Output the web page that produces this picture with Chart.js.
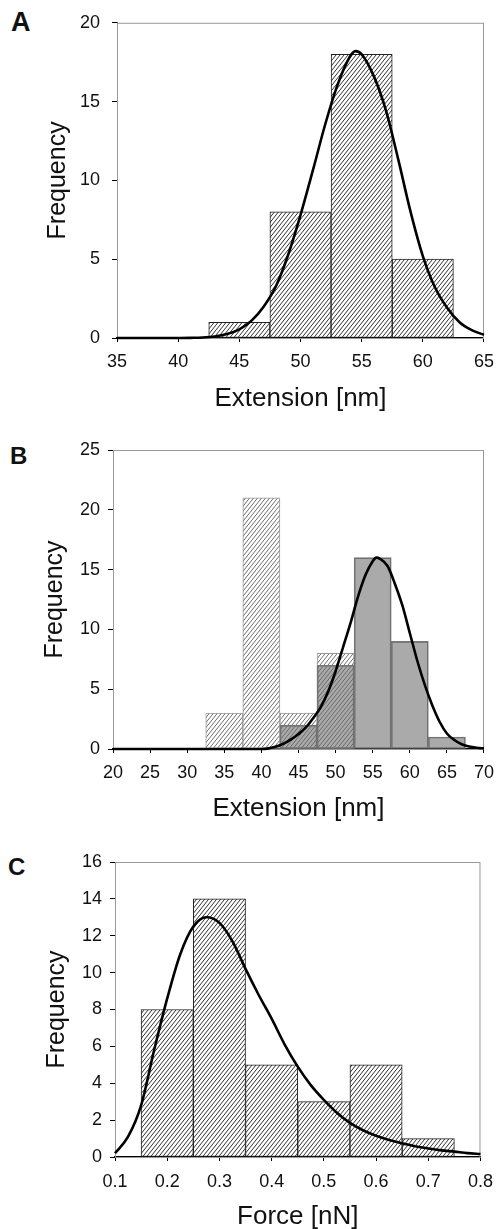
<!DOCTYPE html>
<html>
<head>
<meta charset="utf-8">
<script src="https://cdn.jsdelivr.net/npm/chart.js@4/dist/chart.umd.min.js"></script>
<style>
  body { margin: 0; background: #fff; overflow: hidden; }
  canvas { position: absolute; left: 0; }
  .tag { position: absolute; font-family: "Liberation Sans", Arial, sans-serif; font-weight: bold; line-height: 1; color: #111; }
</style>
</head>
<body>
<div class="tag" style="left:11px; top:9px; font-size:27px;">A</div>
<div class="tag" style="left:10px; top:444px; font-size:24px;">B</div>
<div class="tag" style="left:8px; top:855px; font-size:24px;">C</div>
<canvas id="chartA" width="503" height="420" style="top:0px"></canvas>
<canvas id="chartB" width="503" height="410" style="top:420px"></canvas>
<canvas id="chartC" width="503" height="399" style="top:830px"></canvas>
<script>
// A - extension histogram with gaussian fit
var binsA = [45, 50, 55, 60];
var countsA = [1, 8, 18, 5];
var fitXA = [35, 36, 37, 38, 39, 40, 41, 42, 43, 44, 45, 46, 47, 48, 49, 50, 51, 52, 53, 54, 54.5, 55, 56, 57, 58, 59, 60, 61, 62, 63, 64, 65];
var fitYA = [0, 0, 0, 0, 0, 0, 0.01, 0.03, 0.1, 0.25, 0.55, 1.1, 2.0, 3.3, 5.3, 7.8, 10.6, 13.5, 16.0, 17.8, 18.2, 18.0, 16.6, 14.4, 11.3, 8.0, 5.2, 3.2, 1.9, 1.0, 0.5, 0.2];

// B - two populations, hatched and grey
var binsB1 = [35, 40, 45, 50];
var countsB1 = [3, 21, 3, 8];
var binsB2 = [45, 50, 55, 60, 65];
var countsB2 = [2, 7, 16, 9, 1];
var fitXB = [20, 25, 30, 35, 40, 41, 42, 43, 44, 45, 46, 47, 48, 49, 50, 51, 52, 53, 54, 55, 55.5, 56, 57, 58, 59, 60, 61, 62, 63, 64, 65, 66, 67, 68, 69, 70];
var fitYB = [0, 0, 0, 0, 0, 0.05, 0.2, 0.45, 0.8, 1.25, 1.8, 2.6, 3.5, 4.8, 6.5, 8.5, 10.5, 12.7, 14.5, 15.7, 16.0, 15.9, 15.3, 13.8, 12.0, 9.7, 7.4, 5.4, 3.7, 2.3, 1.3, 0.75, 0.4, 0.2, 0.1, 0.05];

// C - force histogram
var binsC = [0.2, 0.3, 0.4, 0.5, 0.6, 0.7];
var countsC = [8, 14, 5, 3, 5, 1];
var fitXC = [0.1, 0.125, 0.15, 0.175, 0.2, 0.225, 0.25, 0.275, 0.3, 0.325, 0.35, 0.375, 0.4, 0.425, 0.45, 0.475, 0.5, 0.525, 0.55, 0.575, 0.6, 0.625, 0.65, 0.675, 0.7, 0.725, 0.75, 0.775, 0.8];
var fitYC = [0.2, 1.1, 2.8, 5.8, 8.6, 11.0, 12.5, 13.0, 12.7, 11.7, 10.2, 8.8, 7.5, 6.1, 4.9, 3.9, 3.1, 2.4, 1.85, 1.45, 1.15, 0.92, 0.74, 0.58, 0.46, 0.36, 0.29, 0.21, 0.16];

var FONT = '"Liberation Sans", Arial, sans-serif';

function pts(xs, ys) {
	return xs.map(function (x, i) { return { x: x, y: ys[i] }; });
}

function hatch(ctx, color) {
	var w = 4, h = 5;
	var c = document.createElement('canvas');
	c.width = w; c.height = h;
	var g = c.getContext('2d');
	g.fillStyle = '#fff';
	g.fillRect(0, 0, w, h);
	g.strokeStyle = color;
	g.lineWidth = 1;
	g.beginPath();
	for (var k = -1; k <= 1; k++) {
		g.moveTo(k * w, h);
		g.lineTo(k * w + w, 0);
	}
	g.stroke();
	return ctx.createPattern(c, 'repeat');
}

// grey box round the plot area
var framePlugin = {
	id: 'frame',
	beforeDatasetsDraw: function (chart) {
		var a = chart.chartArea, ctx = chart.ctx;
		ctx.save();
		ctx.strokeStyle = '#9a9a9a';
		ctx.lineWidth = 1;
		ctx.strokeRect(a.left + 0.5, a.top + 0.5, a.width - 1, a.height);
		ctx.restore();
	}
};

function fitLine(xs, ys) {
	return {
		type: 'line',
		data: pts(xs, ys),
		borderColor: '#000',
		borderWidth: 2.6,
		pointRadius: 0,
		cubicInterpolationMode: 'monotone',
		clip: 4,
		order: 0
	};
}

function bars(xs, ys, fill, edge, order) {
	return {
		type: 'bar',
		data: pts(xs, ys),
		backgroundColor: fill,
		borderColor: edge,
		borderWidth: 1,
		borderSkipped: false,
		barPercentage: 1,
		categoryPercentage: 1,
		grouped: false,
		order: order
	};
}

function makeChart(id, p) {
	var ctx = document.getElementById(id).getContext('2d');
	return new Chart(ctx, {
		type: 'bar',
		data: { datasets: p.datasets(ctx) },
		options: {
			responsive: false,
			animation: false,
			layout: { padding: { top: p.padTop, right: p.padRight, left: 0, bottom: 0 } },
			plugins: { legend: { display: false }, tooltip: { enabled: false } },
			scales: {
				x: {
					type: 'linear',
					offset: false,
					min: p.xMin,
					max: p.xMax,
					afterFit: function (s) { s.height = p.xHeight; },
					grid: { offset: false, drawOnChartArea: false, tickLength: 4, color: '#000' },
					border: { color: '#000', width: 1.5 },
					ticks: {
						stepSize: p.xStep,
						autoSkip: false,
						maxRotation: 0,
						padding: p.xTickPad,
						color: '#111',
						font: { family: FONT, size: 18 },
						callback: function (v) { return p.xDec ? v.toFixed(p.xDec) : v; }
					},
					title: {
						display: true,
						text: p.xTitle,
						color: '#111',
						font: { family: FONT, size: 26 },
						padding: { top: 0, bottom: p.xTitlePad }
					}
				},
				y: {
					min: 0,
					max: p.yMax,
					afterFit: function (s) { s.width = p.yWidth; },
					grid: { drawOnChartArea: false, tickLength: 5, color: '#000' },
					border: { color: '#444', width: 1 },
					ticks: {
						stepSize: p.yStep,
						padding: p.yTickPad,
						color: '#111',
						font: { family: FONT, size: 18 }
					},
					title: {
						display: true,
						text: 'Frequency',
						color: '#111',
						font: { family: FONT, size: 25 },
						padding: { top: p.yTitlePad, bottom: 0 }
					}
				}
			}
		},
		plugins: [framePlugin]
	});
}

makeChart('chartA', {
	xMin: 35, xMax: 65, xStep: 5, yMax: 20, yStep: 5,
	xTitle: 'Extension [nm]',
	padTop: 18, padRight: 12, xHeight: 82, yWidth: 117,
	xTickPad: 9, xTitlePad: 6, yTickPad: 12, yTitlePad: 43,
	datasets: function (ctx) {
		return [fitLine(fitXA, fitYA), bars(binsA, countsA, hatch(ctx, '#333'), '#222', 1)];
	}
});

makeChart('chartB', {
	xMin: 20, xMax: 70, xStep: 5, yMax: 25, yStep: 5,
	xTitle: 'Extension [nm]',
	padTop: 30, padRight: 12, xHeight: 81, yWidth: 113,
	xTickPad: 9, xTitlePad: 6, yTickPad: 8, yTitlePad: 40,
	datasets: function (ctx) {
		return [
			fitLine(fitXB, fitYB),
			bars(binsB2, countsB2, 'rgba(100,100,100,0.55)', '#777', 1),
			bars(binsB1, countsB1, hatch(ctx, '#6e6e6e'), '#999', 2)
		];
	}
});

makeChart('chartC', {
	xMin: 0.1, xMax: 0.8, xStep: 0.1, xDec: 1, yMax: 16, yStep: 2,
	xTitle: 'Force [nN]',
	padTop: 32, padRight: 14, xHeight: 72, yWidth: 115,
	xTickPad: 10, xTitlePad: -3, yTickPad: 8, yTitlePad: 42,
	datasets: function (ctx) {
		return [fitLine(fitXC, fitYC), bars(binsC, countsC, hatch(ctx, '#333'), '#222', 1)];
	}
});
</script>
</body>
</html>
